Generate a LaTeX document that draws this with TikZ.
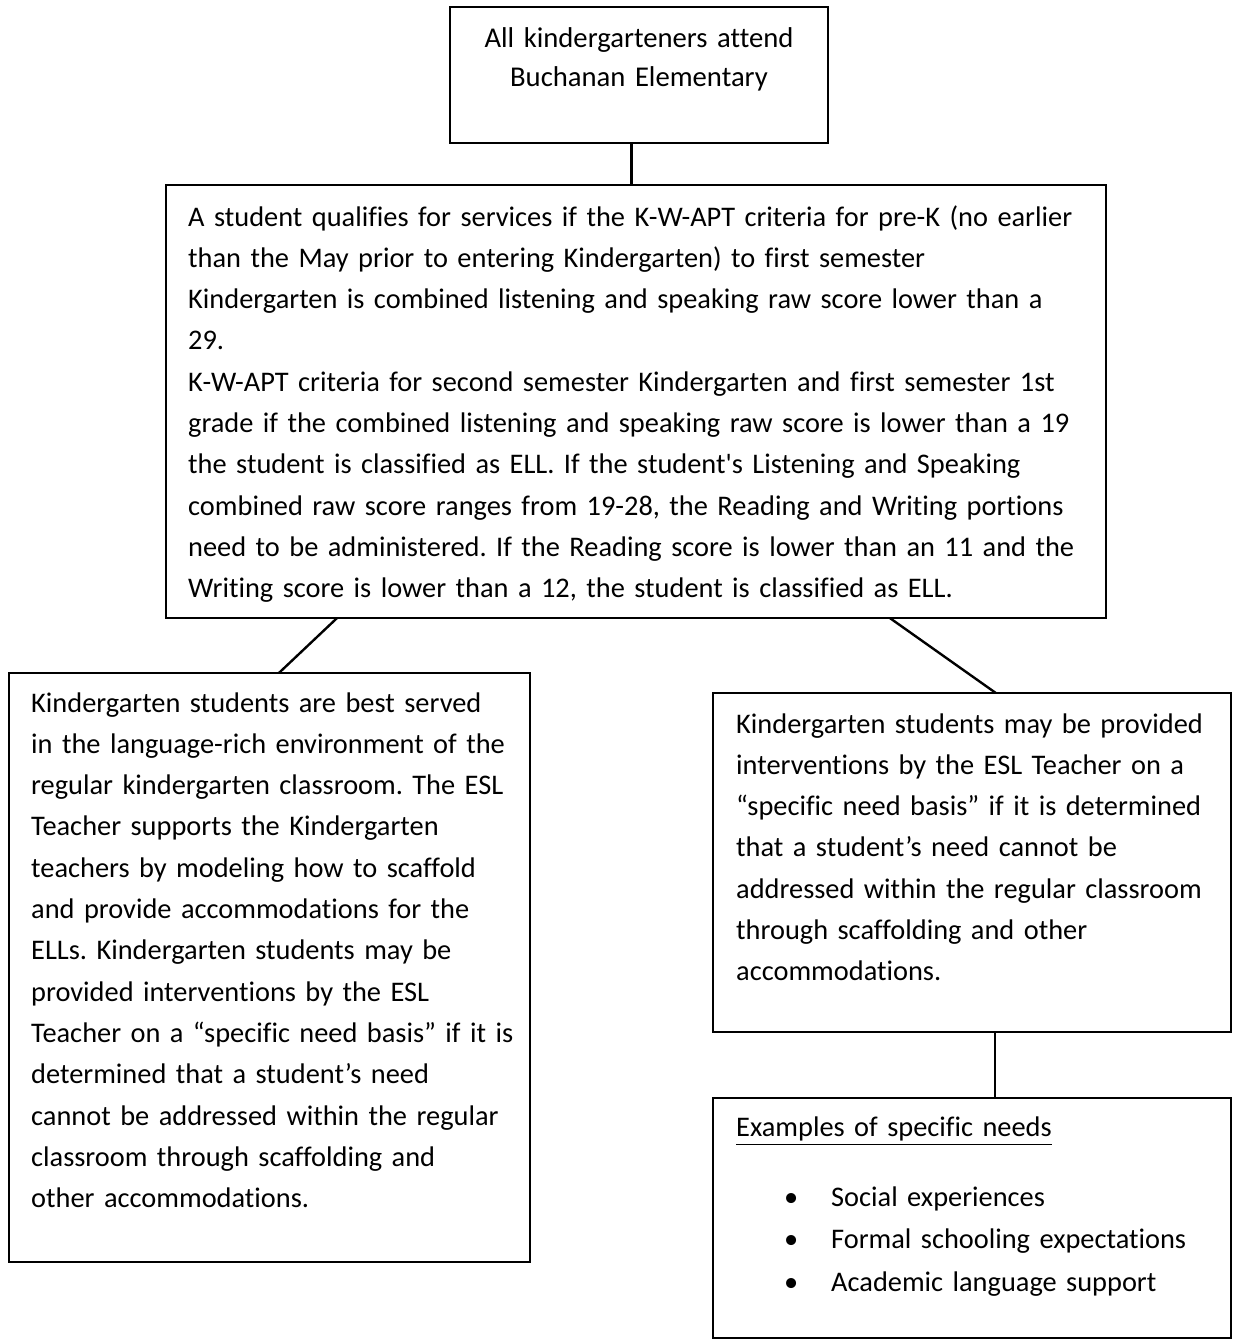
\documentclass[tikz,border=0pt]{standalone}
\usepackage{fontspec}
\setmainfont{Carlito}[Ligatures={TeX,NoCommon}]
\usetikzlibrary{calc}
\newcommand\pxu{0.377pt}
\frenchspacing
\begin{document}
\begin{tikzpicture}[x=0.377pt,y=-0.377pt,line width=0.9pt,
	box/.style={draw,inner sep=0pt,outer sep=0pt,anchor=north west},
	txt/.style={inner sep=0pt,anchor=base west,align=left,font=\fontsize{10.7}{15.57}\selectfont}]
			\useasboundingbox (0,0) rectangle (1233,1340);
			\node[box,minimum width=378*\pxu,minimum height=136*\pxu] (top) at (450,7) {};
			\node[box,minimum width=940*\pxu,minimum height=433*\pxu] (mid) at (166,185) {};
			\node[box,minimum width=521*\pxu,minimum height=589*\pxu] (left) at (9,673) {};
			\node[box,minimum width=518*\pxu,minimum height=339*\pxu] (right) at (713,693) {};
			\node[box,minimum width=518*\pxu,minimum height=240*\pxu] (needs) at (713,1098) {};
			\node[txt,anchor=base,align=center,text width=370*\pxu,font=\fontsize{10.8}{14.7}\selectfont] (toptext) at (639,48)
			{All kindergarteners attend\\ Buchanan Elementary};
			\node[txt,text width=930*\pxu] (midtext) at (187,226)
			{A student qualifies for services if the K-W-APT criteria for pre-K (no earlier\\
			than the May prior to entering Kindergarten) to first semester\\
			Kindergarten is combined listening and speaking raw score lower than a\\
			29.\\
			K-W-APT criteria for second semester Kindergarten and first semester 1st\\
			grade if the combined listening and speaking raw score is lower than a 19\\
			the student is classified as ELL. If the student\textquotesingle s Listening and Speaking\\
			combined raw score ranges from 19-28, the Reading and Writing portions\\
			need to be administered. If the Reading score is lower than an 11 and the\\
			Writing score is lower than a 12, the student is classified as ELL.};
			\node[txt,text width=510*\pxu] (lefttext) at (30,712)
			{Kindergarten students are best served\\
			in the language-rich environment of the\\
			regular kindergarten classroom. The ESL\\
			Teacher supports the Kindergarten\\
			teachers by modeling how to scaffold\\
			and provide accommodations for the\\
			ELLs. Kindergarten students may be\\
			provided interventions by the ESL\\
			Teacher on a “specific need basis” if it is\\
			determined that a student’s need\\
			cannot be addressed within the regular\\
			classroom through scaffolding and\\
			other accommodations.};
			\node[txt,text width=505*\pxu] (righttext) at (735,733)
			{Kindergarten students may be provided\\
			interventions by the ESL Teacher on a\\
			“specific need basis” if it is determined\\
			that a student’s need cannot be\\
			addressed within the regular classroom\\
			through scaffolding and other\\
			accommodations.};
			\node[txt,text width=490*\pxu] (needshead) at (735,1136) {\underline{Examples of specific needs}};
			\node[txt,text width=445*\pxu,font=\fontsize{10.7}{16.2}\selectfont] (needslist) at (783,1206)
			{\makebox[47\dimexpr\pxu][l]{\textbullet}Social experiences\\
			\makebox[47\dimexpr\pxu][l]{\textbullet}Formal schooling expectations\\
			\makebox[47\dimexpr\pxu][l]{\textbullet}Academic language support};
			\coordinate (topfoot) at ($(top.south west)!.48!(top.south east)$);
			\draw (topfoot) -- (topfoot |- mid.north);
			\draw ($(mid.south west)!.182!(mid.south east)$) -- ($(left.north west)!.518!(left.north east)$);
			\draw ($(mid.south west)!.77!(mid.south east)$) -- ($(right.north west)!.546!(right.north east)$);
			\draw ($(right.south west)!.544!(right.south east)$) -- ($(needs.north west)!.544!(needs.north east)$);
\end{tikzpicture}
\end{document}
